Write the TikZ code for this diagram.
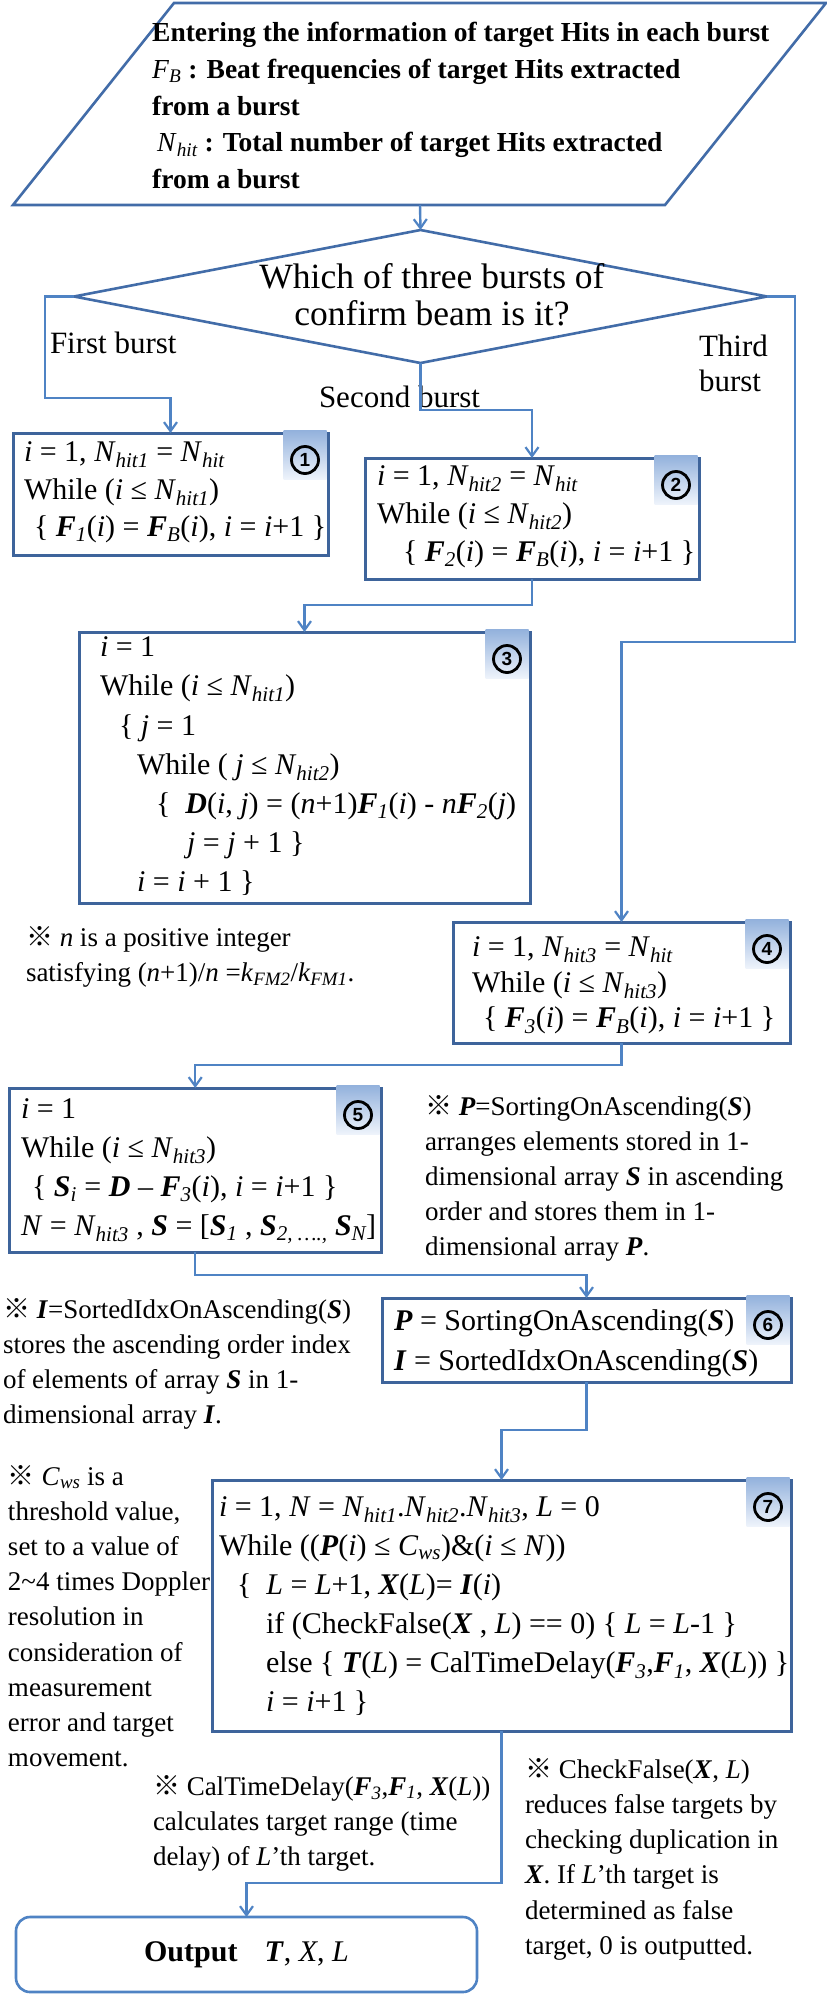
\documentclass[tikz,border=0pt]{standalone}
\usepackage{fontspec}
\setmainfont{Liberation Serif}
\newfontfamily\cjk{Noto Sans CJK JP}
\newfontfamily\numfont{Liberation Sans}
\usetikzlibrary{arrows.meta,shapes.geometric,calc}
\definecolor{boxc}{RGB}{62,100,155}
\definecolor{linec}{RGB}{79,131,196}
\definecolor{shapec}{RGB}{66,108,168}
\definecolor{badgetop}{RGB}{146,177,220}
\definecolor{badgebot}{RGB}{238,243,251}
\newcommand\V[1]{\textit{#1}}
\newcommand\B[1]{\textbf{\textit{#1}}}
\newcommand\sbs[1]{\textsubscript{\itshape #1}}
\newcommand\km{{\cjk ※}}
\tikzset{
  boxn/.style={draw=boxc, line width=3pt, inner sep=0pt, outer sep=0pt, anchor=north west},
  outbox/.style={draw=linec, line width=2.6pt, rounded corners=14pt, inner sep=0pt, outer sep=0pt, anchor=north west, font=\fontsize{30}{36}\selectfont},
  pline/.style={draw=shapec, line width=2.6pt, line join=miter},
  dia/.style={diamond, draw=shapec, line width=2.6pt, inner sep=0pt, outer sep=0pt},
  conn/.style={draw=linec, line width=2.4pt, -{Straight Barb[length=9pt,width=13pt,line width=2.2pt]}},
  txt/.style={inner sep=0pt, outer sep=0pt, anchor=north west, align=left, font=\fontsize{30}{#1}\selectfont},
  txt/.default=38.5,
  note/.style={inner sep=0pt, outer sep=0pt, anchor=north west, align=left, font=\fontsize{27}{35.2}\selectfont},
  lab/.style={inner sep=0pt, outer sep=0pt, font=\fontsize{31}{35}\selectfont},
  badge/.style={top color=badgetop, bottom color=badgebot, draw=none},
  num/.style={circle, draw=black, line width=2.8pt, inner sep=0pt, minimum size=27pt, font=\fontsize{19}{19}\numfont\bfseries},
}
\begin{document}
\begin{tikzpicture}[x=1pt,y=1pt]
\fill[white] (0,0) rectangle (827,-1994);
\useasboundingbox (0,0) rectangle (827,-1994);

% input parallelogram
\coordinate (pTL) at (174,-3);
\coordinate (pTR) at (826,-3);
\coordinate (pBR) at (665,-205);
\coordinate (pBL) at (13,-205);
\coordinate (pS) at (420,-205);
\draw[pline] (pTL) -- (pTR) -- (pBR) -- (pBL) -- cycle;
\node[inner sep=0pt, anchor=north west, align=left, font=\fontsize{27.5}{36.7}\selectfont\bfseries] (ptext) at (152,-16)
 {\strut Entering the information of target Hits in each burst\\
  {\mdseries\V{F}\sbs{B}} : Beat frequencies of target Hits extracted\\
  from a burst\\
  \hspace*{5pt}{\mdseries\V{N}\sbs{hit}} : Total number of target Hits extracted\\
  from a burst};

% decision
\node[dia, minimum width=693pt, minimum height=133pt] (dia) at (420.5,-296.5) {};
\node[inner sep=0pt, anchor=north, align=center, font=\fontsize{35.5}{37}\selectfont] (dtext) at (432,-262)
 {\strut Which of three bursts of\\ confirm beam is it?};

\node[lab, anchor=base west] (l1) at (50,-353) {First burst};
\node[lab, anchor=base west] (l2) at (319,-407) {Second burst};
\node[lab, anchor=north west, align=left] (l3) at (699,-332) {\strut Third\\ burst};

% boxes
\node[boxn, minimum width=315pt, minimum height=122pt] (b1) at (13,-433) {};
\node[boxn, minimum width=334pt, minimum height=121pt] (b2) at (365,-458) {};
\node[boxn, minimum width=451pt, minimum height=271pt] (b3) at (79,-632) {};
\node[boxn, minimum width=337pt, minimum height=121pt] (b4) at (453,-922) {};
\node[boxn, minimum width=371.5pt, minimum height=164pt] (b5) at (9.5,-1088) {};
\node[boxn, minimum width=409pt, minimum height=84pt] (b6) at (382,-1298) {};
\node[boxn, minimum width=579pt, minimum height=251pt] (b7) at (212,-1480) {};
\node[outbox, minimum width=461pt, minimum height=75pt] (out) at (16,-1917)
 {\textbf{Output}\hspace{0.9em}\B{T}, \V{X}, \V{L}};

\foreach \b/\n in {b1/1,b2/2,b3/3,b4/4,b5/5,b6/6,b7/7}{
  \shade[badge] ([xshift=-1.5pt,yshift=3pt]\b.north east) rectangle ++(-43,-49);
  \node[num] (n\b) at ([xshift=-23pt,yshift=-27pt]\b.north east) {\n};
}

% box texts
\node[txt=37.5] (t1) at (24,-435.4)
 {\strut\V{i} = 1, \V{N}\sbs{hit1} = \V{N}\sbs{hit}\\
  While (\V{i} ≤ \V{N}\sbs{hit1})\\
  \hspace*{10pt}\{ \B{F}\sbs{1}(\V{i}) = \B{F}\sbs{B}(\V{i}), \V{i} = \V{i}+1 \}};
\node[txt=38.3] (t2) at (377,-458.2)
 {\strut\V{i} = 1, \V{N}\sbs{hit2} = \V{N}\sbs{hit}\\
  While (\V{i} ≤ \V{N}\sbs{hit2})\\
  \hspace*{26pt}\{ \B{F}\sbs{2}(\V{i}) = \B{F}\sbs{B}(\V{i}), \V{i} = \V{i}+1 \}};
\node[txt=39.2] (t3) at (100,-629.3)
 {\strut\V{i} = 1\\
  While (\V{i} ≤ \V{N}\sbs{hit1})\\
  \hspace*{19pt}\{ \V{j} = 1\\
  \hspace*{37pt}While ( \V{j} ≤ \V{N}\sbs{hit2})\\
  \hspace*{56pt}\{ \ \B{D}(\V{i}, \V{j}) = (\V{n}+1)\B{F}\sbs{1}(\V{i}) - \V{n}\B{F}\sbs{2}(\V{j})\\
  \hspace*{87pt}\V{j} = \V{j} + 1 \}\\
  \hspace*{37pt}\V{i} = \V{i} + 1 \}};
\node[txt=35.5] (t4) at (472,-932)
 {\strut\V{i} = 1, \V{N}\sbs{hit3} = \V{N}\sbs{hit}\\
  While (\V{i} ≤ \V{N}\sbs{hit3})\\
  \hspace*{11pt}\{ \B{F}\sbs{3}(\V{i}) = \B{F}\sbs{B}(\V{i}), \V{i} = \V{i}+1 \}};
\node[txt=39] (t5) at (21,-1090.7)
 {\strut\V{i} = 1\\
  While (\V{i} ≤ \V{N}\sbs{hit3})\\
  \hspace*{11pt}\{ \B{S}\sbs{i} = \B{D} – \B{F}\sbs{3}(\V{i}), \V{i} = \V{i}+1 \}\\
  \V{N} = \V{N}\sbs{hit3} , \B{S} = [\B{S}\sbs{1} , \B{S}\sbs{2, ….,} \B{S}\sbs{N}]};
\node[txt=40] (t6) at (394,-1302)
 {\strut\B{P} = SortingOnAscending(\B{S})\\
  \B{I} = SortedIdxOnAscending(\B{S})};
\node[txt=39] (t7) at (219,-1489.4)
 {\strut\V{i} = 1, \V{N} = \V{N}\sbs{hit1}.\V{N}\sbs{hit2}.\V{N}\sbs{hit3}, \V{L} = 0\\
  While ((\B{P}(\V{i}) ≤ \V{C}\sbs{ws})\&(\V{i} ≤ \V{N}))\\
  \hspace*{18pt}\{ \ \V{L} = \V{L}+1, \B{X}(\V{L})= \B{I}(\V{i})\\
  \hspace*{47pt}if (CheckFalse(\B{X} , \V{L}) == 0) \{ \V{L} = \V{L}-1 \}\\
  \hspace*{47pt}else \{ \B{T}(\V{L}) = CalTimeDelay(\B{F}\sbs{3},\B{F}\sbs{1}, \B{X}(\V{L})) \}\\
  \hspace*{47pt}\V{i} = \V{i}+1 \}};

% notes
\node[note] (nn) at (26,-922.1)
 {\strut\km\ \V{n} is a positive integer\\
  satisfying (\V{n}+1)/\V{n} =\V{k}\sbs{FM2}/\V{k}\sbs{FM1}.};
\node[note] (np) at (425,-1090.4)
 {\strut\km\ \B{P}=SortingOnAscending(\B{S})\\
  arranges elements stored in 1-\\
  dimensional array \B{S} in ascending\\
  order and stores them in 1-\\
  dimensional array \B{P}.};
\node[note] (ni) at (3,-1293.7)
 {\strut\km\ \B{I}=SortedIdxOnAscending(\B{S})\\
  stores the ascending order index\\
  of elements of array \B{S} in 1-\\
  dimensional array \B{I}.};
\node[note] (nc) at (8,-1460.4)
 {\strut\km\ \V{C}\sbs{ws} is a\\
  threshold value,\\
  set to a value of\\
  2\textasciitilde4 times Doppler\\
  resolution in\\
  consideration of\\
  measurement\\
  error and target\\
  movement.};
\node[note] (nt) at (153,-1770.4)
 {\strut\km\ CalTimeDelay(\B{F}\sbs{3},\B{F}\sbs{1}, \B{X}(\V{L}))\\
  calculates target range (time\\
  delay) of \V{L}’th target.};
\node[note] (nf) at (525,-1753.7)
 {\strut\km\ CheckFalse(\B{X}, \V{L})\\
  reduces false targets by\\
  checking duplication in\\
  \B{X}. If \V{L}’th target is\\
  determined as false\\
  target, 0 is outputted.};

% connectors
\draw[conn] (pS) -- (dia.north);
\draw[conn] (dia.west) -- ++(-29,0) |- ([yshift=35pt]b1.north) -- (b1.north);
\draw[conn] (dia.south) -- ++(0,-47) -| (b2.north);
\draw[conn] (dia.east) -- ++(28,0) |- ([yshift=280pt]b4.north) -- (b4.north);
\draw[conn] (b2.south) -- ++(0,-26) -| (b3.north);
\draw[conn] (b4.south) -- ++(0,-22) -| (b5.north);
\draw[conn] (b5.south) -- ++(0,-23) -| (b6.north);
\draw[conn] (b6.south) -- ++(0,-48) -| (b7.north);
\draw[conn] (b7.south) -- ++(0,-152) -| (out.north);
\end{tikzpicture}
\end{document}
